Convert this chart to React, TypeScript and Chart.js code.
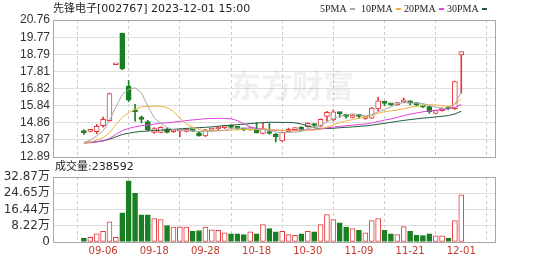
import React, { useEffect, useRef } from "react";
import { Chart, registerables } from "chart.js";

Chart.register(...registerables);

// ---------- data ----------
const titleText = "先锋电子[002767] 2023-12-01 15:00";
const volumeTitle = "成交量";
const lastVolume = 238592;

const dates = [
  "09-01", "09-04", "09-05", "09-06", "09-07", "09-08", "09-11", "09-12", "09-13", "09-14",
  "09-15", "09-18", "09-19", "09-20", "09-21", "09-22", "09-25", "09-26", "09-27", "09-28",
  "10-09", "10-10", "10-11", "10-12", "10-13", "10-16", "10-17", "10-18", "10-19", "10-20",
  "10-23", "10-24", "10-25", "10-26", "10-27", "10-30", "10-31", "11-01", "11-02", "11-03",
  "11-06", "11-07", "11-08", "11-09", "11-10", "11-13", "11-14", "11-15", "11-16", "11-17",
  "11-20", "11-21", "11-22", "11-23", "11-24", "11-27", "11-28", "11-29", "11-30", "12-01",
];

const opens = [
  14.33, 14.36, 14.34, 14.69, 14.97, 18.19, 20.01, 16.97, 15.52, 15.10,
  14.92, 14.30, 14.30, 14.50, 14.34, 14.38, 14.36, 14.42, 14.28, 14.10,
  14.43, 14.50, 14.58, 14.63, 14.56, 14.48, 14.44, 14.52, 14.25, 14.34,
  14.20, 13.82, 14.35, 14.46, 14.52, 14.63, 14.76, 14.66, 15.22, 15.02,
  15.42, 15.27, 15.17, 15.27, 15.10, 15.12, 15.65, 16.03, 15.92, 15.88,
  16.06, 16.04, 15.94, 15.80, 15.78, 15.40, 15.55, 15.70, 15.66, 18.75,
];
const highs = [
  14.45, 14.40, 14.76, 15.18, 16.56, 18.19, 20.01, 17.28, 15.91, 15.25,
  15.00, 14.58, 14.63, 14.55, 14.46, 14.45, 14.52, 14.48, 14.32, 14.48,
  14.55, 14.64, 14.72, 14.72, 14.66, 14.52, 14.60, 14.86, 14.82, 14.82,
  14.25, 14.34, 14.55, 14.56, 14.64, 14.85, 14.80, 15.08, 15.52, 15.60,
  15.44, 15.35, 15.33, 15.36, 15.20, 15.74, 16.32, 16.05, 15.95, 16.03,
  16.28, 16.12, 16.00, 15.84, 15.80, 15.58, 15.72, 15.74, 17.25, 18.94,
];
const lows = [
  14.18, 14.33, 14.22, 14.60, 14.95, 18.19, 17.90, 16.07, 14.95, 14.85,
  14.40, 14.25, 14.28, 14.28, 14.30, 14.05, 14.32, 14.35, 14.08, 14.06,
  14.36, 14.44, 14.52, 14.52, 14.45, 14.40, 14.42, 14.26, 14.22, 14.20,
  13.75, 13.78, 14.32, 14.40, 14.42, 14.60, 14.62, 14.62, 14.95, 14.95,
  15.18, 15.12, 15.14, 15.10, 15.05, 15.10, 15.55, 15.85, 15.85, 15.86,
  16.00, 15.90, 15.82, 15.72, 15.40, 15.36, 15.52, 15.60, 15.62, 16.55,
];
const closes = [
  14.29, 14.38, 14.65, 15.05, 16.54, 18.19, 17.95, 16.16, 15.49, 15.05,
  14.46, 14.52, 14.60, 14.30, 14.38, 14.42, 14.48, 14.38, 14.10, 14.45,
  14.46, 14.54, 14.61, 14.59, 14.53, 14.45, 14.58, 14.29, 14.52, 14.24,
  14.05, 14.30, 14.48, 14.52, 14.48, 14.82, 14.70, 15.05, 15.45, 15.49,
  15.38, 15.22, 15.30, 15.22, 15.13, 15.70, 16.12, 15.97, 15.88, 16.01,
  16.10, 16.00, 15.90, 15.77, 15.50, 15.55, 15.68, 15.66, 17.22, 18.94,
];
// closes of the 29 sessions before 09-01 (needed for the moving averages)
const priorCloses = [
  13.80, 13.85, 13.78, 13.90, 13.95, 13.88, 13.82, 13.75, 13.70, 13.78,
  13.85, 13.80, 13.72, 13.65, 13.70, 13.62, 13.58, 13.66, 13.72, 13.68,
  13.60, 13.55, 13.62, 13.70, 13.64, 13.58, 13.52, 13.55, 13.60,
];
// volume in 万 (10k shares)
const volumes = [
  2.0, 2.4, 4.1, 5.4, 10.2, 2.4, 14.7, 30.9, 24.6, 13.7,
  13.7, 11.9, 11.4, 8.3, 7.5, 7.5, 7.5, 5.4, 5.8, 7.5,
  6.1, 5.9, 4.6, 4.1, 4.1, 3.7, 5.1, 4.1, 8.8, 6.8,
  5.1, 5.4, 3.7, 3.4, 4.1, 5.4, 5.1, 8.8, 13.9, 11.4,
  9.7, 7.5, 6.8, 5.9, 4.7, 10.8, 11.9, 5.9, 4.1, 3.7,
  7.8, 5.4, 3.4, 3.2, 4.1, 3.1, 3.1, 2.0, 10.8, 23.86,
];

const priceTicks = [12.89, 13.87, 14.86, 15.84, 16.82, 17.81, 18.79, 19.77, 20.76];
const volumeTicks = [0, 8.22, 16.44, 24.65, 32.87];
const dateTickLabels = ["09-06", "09-18", "09-28", "10-18", "10-30", "11-09", "11-21", "12-01"];
const maPeriods = [5, 10, 20, 30];
const maNames = ["5PMA", "10PMA", "20PMA", "30PMA"];

// ---------- styles ----------
const RED = "#e4393c";
const GREEN = "#1a7f22";
const maColors = ["#a9a9a9", "#f0b441", "#e043de", "#1f5a3e"];
const FRAME = "#a6a6a6";
const GRID = "#dedede";
const VGRID = "#c9c9c9";
const LABEL = "#333333";
const DATE_COLOR = "#c43a2e";
const SANS = "'Liberation Sans', 'Noto Sans CJK SC', sans-serif";
const DEJA = "'DejaVu Sans', 'Noto Sans CJK SC', sans-serif";

function movingAverage(period: number): number[] {
  const all = priorCloses.concat(closes);
  const off = priorCloses.length;
  return closes.map((_, i) => {
    let s = 0;
    for (let k = off + i - period + 1; k <= off + i; k++) s += all[k];
    return s / period;
  });
}

const isUp = (i: number) => closes[i] >= opens[i];
const X_MIN = -0.5;
const X_MAX = dates.length + 0.1;

function xAxis(showLabels: boolean) {
  return {
    type: "linear" as const,
    min: X_MIN,
    max: X_MAX,
    afterBuildTicks: (s: any) => {
      s.ticks = dateTickLabels.map((l) => ({ value: dates.indexOf(l) }));
    },
    afterFit: (s: any) => {
      s.height = showLabels ? 20 : 0;
    },
    ticks: {
      display: showLabels,
      autoSkip: false,
      maxRotation: 0,
      padding: 3,
      color: DATE_COLOR,
      font: { size: 10, family: DEJA },
      callback: (v: any) => dates[Number(v)] ?? "",
    },
    grid: { display: true, color: VGRID, drawTicks: false, lineWidth: 1 },
    border: { display: false, dash: [3, 3] },
  };
}

function yAxis(ticksArr: number[], fmt: (v: number) => string, size: number, family: string) {
  return {
    min: ticksArr[0],
    max: ticksArr[ticksArr.length - 1],
    afterBuildTicks: (s: any) => {
      s.ticks = ticksArr.map((v) => ({ value: v }));
    },
    afterFit: (s: any) => {
      s.width = 53;
    },
    ticks: {
      autoSkip: false,
      padding: 3,
      color: LABEL,
      font: { size, family },
      callback: (v: any) => fmt(Number(v)),
    },
    grid: { color: GRID, drawTicks: false },
    border: { display: false },
  };
}

const framePlugin = {
  id: "frame",
  beforeDraw(chart: any) {
    const { ctx } = chart;
    ctx.save();
    ctx.fillStyle = "#ffffff";
    ctx.fillRect(0, 0, chart.width, chart.height);
    ctx.restore();
  },
  afterDatasetsDraw(chart: any) {
    const { ctx, chartArea: a } = chart;
    ctx.save();
    ctx.strokeStyle = FRAME;
    ctx.lineWidth = 1;
    ctx.strokeRect(Math.round(a.left) + 0.5, Math.round(a.top) + 0.5, Math.round(a.right - a.left) - 1, Math.round(a.bottom - a.top));
    ctx.restore();
  },
};

const priceTextPlugin = {
  id: "priceText",
  beforeDatasetsDraw(chart: any) {
    const { ctx } = chart;
    ctx.save();
    ctx.fillStyle = "rgba(0,0,0,0.06)";
    ctx.font = "bold 31px 'Noto Sans CJK SC', sans-serif";
    ctx.textBaseline = "middle";
    ctx.textAlign = "left";
    ctx.fillText("东方财富", 230, 85);
    ctx.restore();
  },
  afterDraw(chart: any) {
    const { ctx } = chart;
    ctx.save();
    ctx.fillStyle = "#222";
    ctx.textBaseline = "middle";
    ctx.textAlign = "left";
    ctx.font = `11px ${DEJA}`;
    ctx.fillText(titleText, 53, 9);
    // legend
    ctx.font = "10px 'Liberation Serif', serif";
    const xs = [320, 361, 404, 447];
    maNames.forEach((n, i) => {
      ctx.fillStyle = "#222";
      ctx.fillText(n, xs[i], 9);
      const w = ctx.measureText(n).width;
      ctx.fillStyle = maColors[i];
      ctx.fillRect(Math.round(xs[i] + w + 3), 8, 5, 2);
    });
    ctx.restore();
  },
};

const volumeTextPlugin = {
  id: "volumeText",
  afterDraw(chart: any) {
    const { ctx } = chart;
    ctx.save();
    ctx.fillStyle = "#222";
    ctx.textBaseline = "middle";
    ctx.textAlign = "left";
    ctx.font = `11px ${DEJA}`;
    ctx.fillText(`${volumeTitle}:${lastVolume}`, 55, 7);
    ctx.restore();
  },
};

export default function App() {
  const priceRef = useRef<HTMLCanvasElement | null>(null);
  const volRef = useRef<HTMLCanvasElement | null>(null);

  useEffect(() => {
    document.body.style.margin = "0";
    const idx = dates.map((_, i) => i);

    const priceChart = new Chart(priceRef.current as HTMLCanvasElement, {
      type: "bar",
      data: {
        datasets: [
          ...maPeriods.map((p, k) => ({
            type: "line" as const,
            label: maNames[k],
            data: movingAverage(p).map((v, i) => ({ x: i, y: v })),
            borderColor: maColors[k],
            borderWidth: 1,
            pointRadius: 0,
            tension: 0,
            fill: false,
            order: 0,
          })),
          {
            type: "bar" as const,
            label: "body",
            data: idx.map((i) => ({ x: i, y: [opens[i], closes[i]] })) as any,
            backgroundColor: idx.map((i) => (isUp(i) ? "#ffffff" : GREEN)),
            borderColor: idx.map((i) => (isUp(i) ? RED : GREEN)),
            borderWidth: 1,
            borderSkipped: false,
            barThickness: 5,
            minBarLength: 2,
            grouped: false,
            order: 1,
          },
          {
            type: "bar" as const,
            label: "wick",
            data: idx.map((i) => ({ x: i, y: [lows[i], highs[i]] })) as any,
            backgroundColor: idx.map((i) => (isUp(i) ? RED : GREEN)),
            borderWidth: 0,
            barThickness: 1,
            grouped: false,
            order: 2,
          },
        ] as any,
      },
      options: {
        responsive: false,
        animation: false,
        devicePixelRatio: 1,
        layout: { padding: { top: 20, right: 53, bottom: 13, left: 0 }, autoPadding: false },
        plugins: { legend: { display: false }, tooltip: { enabled: false }, title: { display: false } },
        scales: {
          x: xAxis(false),
          y: yAxis(priceTicks, (v) => v.toFixed(2), 12, SANS),
        } as any,
      },
      plugins: [framePlugin, priceTextPlugin],
    });

    const volChart = new Chart(volRef.current as HTMLCanvasElement, {
      type: "bar",
      data: {
        datasets: [
          {
            label: "volume",
            data: idx.map((i) => ({ x: i, y: volumes[i] })) as any,
            backgroundColor: idx.map((i) => (isUp(i) ? "#ffffff" : GREEN)),
            borderColor: idx.map((i) => (isUp(i) ? RED : GREEN)),
            borderWidth: 1,
            borderSkipped: false,
            barThickness: 5,
            grouped: false,
          },
        ] as any,
      },
      options: {
        responsive: false,
        animation: false,
        devicePixelRatio: 1,
        layout: { padding: { top: 17, right: 53, bottom: 0, left: 0 }, autoPadding: false },
        plugins: { legend: { display: false }, tooltip: { enabled: false } },
        scales: {
          x: xAxis(true),
          y: yAxis(volumeTicks, (v) => (v === 0 ? "0" : v.toFixed(2) + "万"), 12, DEJA),
        } as any,
      },
      plugins: [framePlugin, volumeTextPlugin],
    });

    return () => {
      priceChart.destroy();
      volChart.destroy();
    };
  }, []);

  return (
    <div style={{ position: "fixed", left: 0, top: 0, width: 549, height: 262, background: "#fff", overflow: "hidden" }}>
      <canvas ref={priceRef} width={549} height={170} style={{ position: "absolute", left: 0, top: 0 }} />
      <canvas ref={volRef} width={549} height={102} style={{ position: "absolute", left: 0, top: 160 }} />
    </div>
  );
}
